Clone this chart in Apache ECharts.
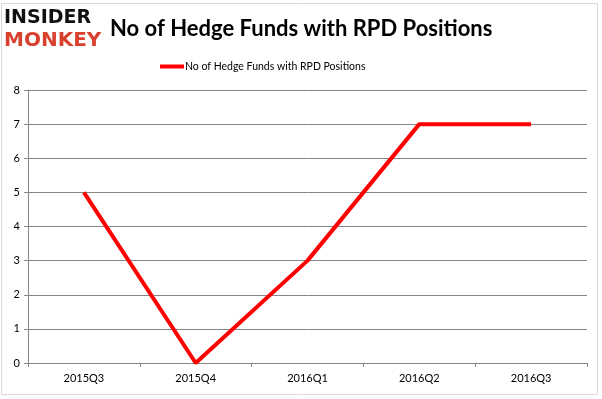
<!DOCTYPE html>
<html>
<head>
<meta charset="utf-8">
<script src="https://cdn.jsdelivr.net/npm/echarts@6/dist/echarts.min.js"></script>
<style>
  html, body { margin: 0; padding: 0; background: #fff; }
  #chart { width: 602px; height: 399px; }
</style>
</head>
<body>
<div id="chart"></div>
<script>
var quarters = ['2015Q3', '2015Q4', '2016Q1', '2016Q2', '2016Q3'];
var fundCounts = [5, 0, 3, 7, 7];
var seriesName = 'No of Hedge Funds with RPD Positions';

var myChart = echarts.init(document.getElementById('chart'));

var option = {
    backgroundColor: '#fff',
    animation: false,
    title: {
        text: 'No of Hedge Funds with RPD Positions',
        left: 105,
        top: 13,
        textStyle: { fontFamily: 'Lato', fontWeight: 'bold', fontSize: 22, color: '#000' }
    },
    legend: {
        top: 56,
        left: 155,
        itemWidth: 24,
        itemHeight: 4,
        itemGap: 0,
        icon: 'rect',
        textStyle: { fontFamily: 'Lato', fontSize: 10.5, color: '#000', padding: [0, 0, 0, -4] },
        data: [seriesName]
    },
    grid: { left: 28, right: 15, top: 90, bottom: 36 },
    xAxis: {
        type: 'category',
        data: quarters,
        boundaryGap: true,
        axisLine: { lineStyle: { color: '#868686' } },
        axisTick: { show: true, length: 4, lineStyle: { color: '#868686' } },
        axisLabel: { fontFamily: 'Lato', fontSize: 11, color: '#000', margin: 10 }
    },
    yAxis: {
        type: 'value',
        min: 0,
        max: 8,
        interval: 1,
        axisLine: { show: true, lineStyle: { color: '#868686' } },
        axisTick: { show: true, length: 4, lineStyle: { color: '#868686' } },
        axisLabel: { fontFamily: 'Lato', fontSize: 11, color: '#000', margin: 8 },
        splitLine: { lineStyle: { color: '#868686' } }
    },
    series: [{
        name: seriesName,
        type: 'line',
        data: fundCounts,
        symbol: 'none',
        lineStyle: { color: '#ff0000', width: 4 },
        itemStyle: { color: '#ff0000' }
    }],
    graphic: [
        {
            type: 'rect',
            shape: { x: 1.5, y: 3.5, width: 596, height: 391 },
            style: { fill: 'none', stroke: '#d9d9d9', lineWidth: 1 }
        },
        {
            type: 'text',
            left: 4,
            top: 9,
            style: { text: 'INSIDER', fontFamily: 'DejaVu Sans', fontWeight: 'bold', fontSize: 19, fill: '#111' }
        },
        {
            type: 'text',
            left: 4,
            top: 31,
            style: { text: 'MONKEY', fontFamily: 'DejaVu Sans', fontWeight: 'bold', fontSize: 20, fill: '#d9412f' }
        }
    ]
};

myChart.setOption(option);
</script>
</body>
</html>
